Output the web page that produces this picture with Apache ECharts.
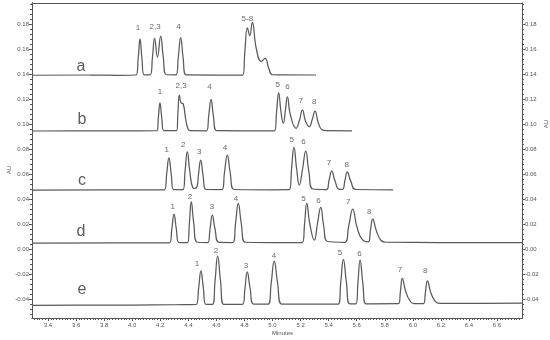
<!DOCTYPE html>
<html>
<head>
<meta charset="utf-8">
<script src="https://cdn.jsdelivr.net/npm/echarts@6/dist/echarts.min.js"></script>
<style>html,body{margin:0;padding:0;background:#fff}#c{width:550px;height:340px}</style>
</head>
<body>
<div id="c"></div>
<script>
// Axis ticks
const xTickLabels = [3.4,3.6,3.8,4.0,4.2,4.4,4.6,4.8,5.0,5.2,5.4,5.6,5.8,6.0,6.2,6.4,6.6];
const yTickLabels = [-0.04,-0.02,0.00,0.02,0.04,0.06,0.08,0.10,0.12,0.14,0.16,0.18];

// Traces [minutes, AU]
const traceA = [[3.286,0.1390],[3.70,0.1392],[3.90,0.1390],[4.028,0.1392],[4.043,0.1530],[4.056,0.1680],[4.069,0.1530],[4.086,0.1393],[4.128,0.1393],[4.145,0.1540],[4.160,0.1686],[4.180,0.1534],[4.203,0.1704],[4.220,0.1550],[4.244,0.1394],[4.312,0.1393],[4.329,0.1540],[4.346,0.1690],[4.362,0.1540],[4.384,0.1393],[4.60,0.1392],[4.788,0.1392],[4.803,0.1580],[4.821,0.1770],[4.838,0.1706],[4.856,0.1814],[4.885,0.1600],[4.920,0.1500],[4.947,0.1526],[4.975,0.1440],[5.002,0.1394],[5.310,0.1392]];
const traceB = [[3.286,0.0944],[3.60,0.0946],[4.00,0.0945],[4.176,0.0946],[4.187,0.1058],[4.198,0.1170],[4.210,0.1058],[4.226,0.0947],[4.316,0.0947],[4.326,0.1090],[4.336,0.1232],[4.348,0.1170],[4.364,0.1160],[4.381,0.1040],[4.398,0.0960],[4.414,0.0947],[4.530,0.0946],[4.546,0.1072],[4.562,0.1198],[4.578,0.1072],[4.602,0.0947],[4.80,0.0946],[5.014,0.0946],[5.029,0.1098],[5.044,0.1250],[5.060,0.1100],[5.077,0.1006],[5.092,0.1110],[5.106,0.1218],[5.128,0.1070],[5.168,0.0966],[5.192,0.1030],[5.213,0.1112],[5.236,0.1020],[5.262,0.0978],[5.283,0.1035],[5.303,0.1104],[5.326,0.1010],[5.352,0.0955],[5.384,0.0947],[5.567,0.0946]];
const traceC = [[3.286,0.0472],[3.80,0.0474],[4.230,0.0474],[4.246,0.0602],[4.262,0.0730],[4.278,0.0602],[4.296,0.0475],[4.362,0.0475],[4.377,0.0626],[4.393,0.0778],[4.410,0.0626],[4.432,0.0490],[4.446,0.0485],[4.462,0.0500],[4.473,0.0600],[4.488,0.0712],[4.504,0.0600],[4.526,0.0476],[4.640,0.0475],[4.658,0.0614],[4.678,0.0752],[4.698,0.0614],[4.726,0.0476],[5.00,0.0474],[5.120,0.0475],[5.136,0.0645],[5.153,0.0814],[5.172,0.0640],[5.191,0.0512],[5.214,0.0640],[5.237,0.0784],[5.259,0.0620],[5.288,0.0480],[5.385,0.0476],[5.403,0.0550],[5.422,0.0624],[5.444,0.0550],[5.475,0.0478],[5.499,0.0478],[5.516,0.0548],[5.533,0.0618],[5.557,0.0545],[5.595,0.0476],[5.859,0.0474]];
const traceD = [[3.286,0.0048],[3.90,0.0050],[4.266,0.0050],[4.283,0.0165],[4.298,0.0280],[4.314,0.0165],[4.334,0.0052],[4.394,0.0052],[4.408,0.0214],[4.421,0.0378],[4.438,0.0214],[4.464,0.0054],[4.538,0.0052],[4.555,0.0162],[4.571,0.0272],[4.590,0.0162],[4.620,0.0053],[4.716,0.0052],[4.737,0.0208],[4.756,0.0366],[4.777,0.0208],[4.806,0.0054],[5.00,0.0052],[5.212,0.0052],[5.229,0.0208],[5.244,0.0366],[5.266,0.0200],[5.298,0.0072],[5.320,0.0200],[5.344,0.0334],[5.364,0.0190],[5.392,0.0060],[5.514,0.0054],[5.544,0.0190],[5.572,0.0320],[5.601,0.0180],[5.640,0.0075],[5.683,0.0058],[5.698,0.0150],[5.714,0.0240],[5.739,0.0150],[5.772,0.0070],[5.806,0.0054],[6.20,0.0052],[6.778,0.0052]];
const traceE = [[3.286,-0.0450],[3.60,-0.0449],[4.00,-0.0448],[4.30,-0.0446],[4.456,-0.0444],[4.474,-0.0310],[4.490,-0.0174],[4.507,-0.0310],[4.526,-0.0443],[4.572,-0.0443],[4.591,-0.0250],[4.609,-0.0056],[4.629,-0.0250],[4.652,-0.0442],[4.786,-0.0442],[4.804,-0.0312],[4.820,-0.0182],[4.840,-0.0312],[4.866,-0.0441],[4.968,-0.0441],[4.991,-0.0270],[5.012,-0.0096],[5.036,-0.0270],[5.066,-0.0440],[5.30,-0.0440],[5.468,-0.0440],[5.487,-0.0260],[5.505,-0.0082],[5.526,-0.0260],[5.552,-0.0439],[5.594,-0.0439],[5.609,-0.0265],[5.624,-0.0088],[5.643,-0.0265],[5.666,-0.0438],[5.898,-0.0437],[5.912,-0.0335],[5.925,-0.0234],[5.947,-0.0330],[5.977,-0.0410],[6.006,-0.0436],[6.076,-0.0436],[6.090,-0.0345],[6.104,-0.0254],[6.127,-0.0345],[6.157,-0.0415],[6.186,-0.0435],[6.50,-0.0434],[6.778,-0.0433]];

// Peak labels [minutes, AU, text]
const peakLabelsA = [[4.041,0.1768,'1'],[4.163,0.1778,'2,3'],[4.329,0.1774,'4'],[4.821,0.1845,'5-8']];
const peakLabelsB = [[4.198,0.1258,'1'],[4.348,0.1304,'2,3'],[4.550,0.1298,'4'],[5.037,0.1312,'5'],[5.106,0.1294,'6'],[5.201,0.1186,'7'],[5.298,0.1178,'8']];
const peakLabelsC = [[4.246,0.0792,'1'],[4.364,0.0832,'2'],[4.478,0.0778,'3'],[4.662,0.0810,'4'],[5.137,0.0872,'5'],[5.220,0.0858,'6'],[5.403,0.0686,'7'],[5.529,0.0672,'8']];
const peakLabelsD = [[4.289,0.0338,'1'],[4.412,0.0418,'2'],[4.569,0.0338,'3'],[4.740,0.0398,'4'],[5.220,0.0398,'5'],[5.327,0.0386,'6'],[5.540,0.0374,'7'],[5.690,0.0298,'8']];
const peakLabelsE = [[4.462,-0.0120,'1'],[4.597,-0.0016,'2'],[4.811,-0.0136,'3'],[5.011,-0.0056,'4'],[5.481,-0.0030,'5'],[5.619,-0.0042,'6'],[5.909,-0.0168,'7'],[6.089,-0.0176,'8']];
const traceNames = [[3.635,0.1456,'a'],[3.642,0.1032,'b'],[3.642,0.0544,'c'],[3.635,0.0136,'d'],[3.642,-0.0328,'e']];

const X_MIN = 3.286, X_MAX = 6.778, Y_MIN = -0.0552, Y_MAX = 0.1968;
const xMinor = []; for (let i = 165; i <= 338; i++) xMinor.push(+(i*0.02).toFixed(2));
const yMinor = []; for (let i = -13; i <= 49; i++) yMinor.push(+(i*0.004).toFixed(3));

const AX = '#555';
const lab = {fontSize: 6, color: '#555', fontFamily: 'Liberation Sans'};

function xAx(extra){ return Object.assign({type:'value', min:X_MIN, max:X_MAX, gridIndex:0, splitLine:{show:false},
  axisLine:{show:true, onZero:false, lineStyle:{color:AX, width:1}}}, extra); }
function yAx(extra){ return Object.assign({type:'value', min:Y_MIN, max:Y_MAX, gridIndex:0, splitLine:{show:false},
  axisLine:{show:true, onZero:false, lineStyle:{color:AX, width:1}}}, extra); }

const lineSeries = [traceA,traceB,traceC,traceD,traceE].map(d => ({
  type:'line', data:d, smooth:0.5, showSymbol:false, symbol:'none',
  lineStyle:{color:'#5a5a5a', width:1.25}, silent:true, z:3
}));
function labelSeries(arr, size, color){
  return {type:'scatter', symbolSize:1, itemStyle:{color:'rgba(0,0,0,0)'}, silent:true, z:4,
    data: arr.map(p => ({value:[p[0],p[1]], name:p[2]})),
    label:{show:true, position:'inside', formatter: p => p.name, fontSize:size, color:color, fontFamily:'Liberation Sans'}};
}

const chart = echarts.init(document.getElementById('c'), null, {renderer:'canvas'});
chart.setOption({
  animation:false,
  grid:{left:32, right:28, top:3, bottom:22, containLabel:false},
  xAxis:[
    xAx({position:'bottom', axisTick:{show:true, inside:false, length:3, customValues:xTickLabels, lineStyle:{color:AX}},
      axisLabel:Object.assign({show:true, margin:4, customValues:xTickLabels, formatter:v=>(+v).toFixed(1)}, lab)}),
    xAx({position:'bottom', axisTick:{show:true, inside:false, length:2, customValues:xMinor, lineStyle:{color:AX}}, axisLabel:{show:false}}),
    xAx({position:'top', axisTick:{show:false}, axisLabel:{show:false}})
  ],
  yAxis:[
    yAx({position:'left', axisTick:{show:true, length:3, customValues:yTickLabels, lineStyle:{color:AX}},
      axisLabel:Object.assign({show:true, margin:3, customValues:yTickLabels, formatter:v=>(+v).toFixed(2)}, lab)}),
    yAx({position:'left', axisTick:{show:true, length:2, customValues:yMinor, lineStyle:{color:AX}}, axisLabel:{show:false}}),
    yAx({position:'right', axisTick:{show:true, length:3, customValues:yTickLabels, lineStyle:{color:AX}},
      axisLabel:Object.assign({show:true, margin:3, customValues:yTickLabels, formatter:v=>(+v).toFixed(2)}, lab)}),
    yAx({position:'right', axisTick:{show:true, length:2, customValues:yMinor, lineStyle:{color:AX}}, axisLabel:{show:false}})
  ],
  series: lineSeries.concat([
    labelSeries(peakLabelsA, 8, '#444'),
    labelSeries(peakLabelsB, 8, '#444'),
    labelSeries(peakLabelsC, 8, '#444'),
    labelSeries(peakLabelsD, 8, '#444'),
    labelSeries(peakLabelsE, 8, '#444'),
    labelSeries(traceNames, 16, '#333')
  ]),
  graphic:[
    {type:'text', left:6, top:166, rotation:Math.PI/2, style:{text:'AU', fontSize:6, fill:'#555', fontFamily:'Liberation Sans'}},
    {type:'text', left:543, top:120, rotation:Math.PI/2, style:{text:'AU', fontSize:6, fill:'#555', fontFamily:'Liberation Sans'}},
    {type:'text', left:272, top:330, style:{text:'Minutes', fontSize:6, fill:'#555', fontFamily:'Liberation Sans'}}
  ]
});
</script>
</body>
</html>
